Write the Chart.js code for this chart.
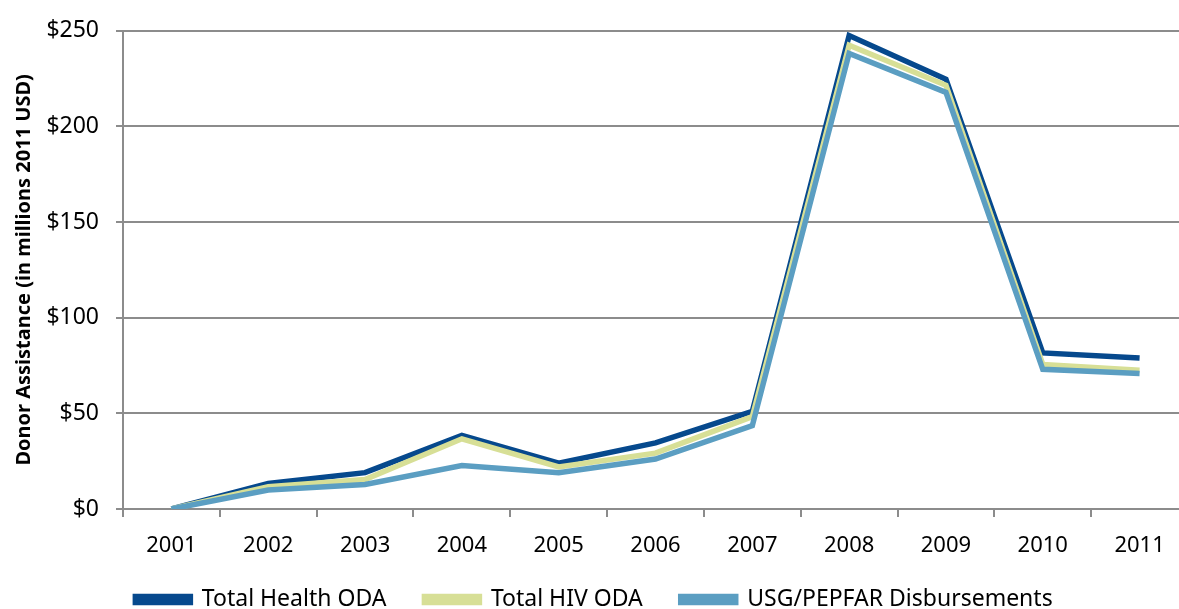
<!DOCTYPE html>
<html>
<head>
<meta charset="utf-8">
<script src="https://cdn.jsdelivr.net/npm/chart.js@4/dist/chart.umd.min.js"></script>
<style>
  html, body { margin: 0; padding: 0; overflow: hidden; background: #fff; }
  #wrap { width: 1188px; height: 609px; }
</style>
</head>
<body>
<div id="wrap"><canvas id="chart"></canvas></div>
<script>
// data (millions 2011 USD)
const years = ['2001', '2002', '2003', '2004', '2005', '2006', '2007', '2008', '2009', '2010', '2011'];
const totalHealth = [0, 13.3, 19, 38.5, 24, 34.6, 51, 247.5, 224.7, 81.6, 79];
const totalHiv = [0, 11.6, 15.4, 36.7, 22, 29.2, 48.3, 242.5, 221.5, 75.6, 72.5];
const usgPepfar = [0, 9.9, 12.8, 22.7, 19, 26.1, 43.6, 238.2, 217.8, 73, 70.9];
const yTicks = [0, 50, 100, 150, 200, 250];

const gridGray = '#8c8c8c';
const font = 'Noto Sans';

// legend keeps a small box in the layout, then is moved to the bottom line when drawn
const legendPlace = {
    id: 'legendPlace',
    beforeInit(chart) {
        let fit = chart.legend.fit;
        chart.legend.fit = function () {
            fit.call(this);
            this.height = 40;
        };
    },
    beforeDraw(chart) {
        let lg = chart.legend;
        lg.top = 600 - lg.options.labels.padding - 12;
    }
};

let ctx = document.getElementById('chart').getContext('2d');
let chart = new Chart(ctx, {
    type: 'line',
    data: {
        labels: years,
        datasets: [
            { label: 'Total Health ODA', data: totalHealth, borderColor: '#06498d', backgroundColor: '#06498d', order: 3 },
            { label: 'Total HIV ODA', data: totalHiv, borderColor: '#d7df96', backgroundColor: '#d7df96', order: 2 },
            { label: 'USG/PEPFAR Disbursements', data: usgPepfar, borderColor: '#5b9ec2', backgroundColor: '#5b9ec2', order: 1 }
        ]
    },
    plugins: [legendPlace],
    options: {
        responsive: true,
        maintainAspectRatio: false,
        animation: false,
        datasets: {
            line: { borderWidth: 5.5, pointRadius: 0, tension: 0, fill: false }
        },
        layout: { padding: { top: 21, right: 0, bottom: 0, left: 0 } },
        plugins: {
            tooltip: { enabled: false },
            legend: {
                position: 'bottom',
                labels: {
                    font: { family: font, size: 23 },
                    color: '#000',
                    boxWidth: 55,
                    boxHeight: 6,
                    padding: 38,
                    sort: (a, b) => a.datasetIndex - b.datasetIndex
                }
            }
        },
        scales: {
            x: {
                offset: true,
                grid: { display: true, drawOnChartArea: false, offset: true, color: gridGray, lineWidth: 2, tickLength: 8 },
                border: { color: gridGray, width: 2 },
                ticks: { font: { family: font, size: 22 }, color: '#000', padding: 16, maxRotation: 0 },
                afterFit: (scale) => { scale.height = 60; }
            },
            y: {
                min: 0,
                max: 250,
                afterBuildTicks: (scale) => { scale.ticks = yTicks.map(v => ({ value: v })); },
                grid: { color: gridGray, lineWidth: 2, tickLength: 7 },
                border: { color: gridGray, width: 2 },
                ticks: {
                    font: { family: font, size: 23 },
                    color: '#000',
                    padding: 17,
                    callback: (v) => '$' + v
                },
                title: {
                    display: true,
                    text: 'Donor Assistance (in millions 2011 USD)',
                    font: { family: font, size: 20, weight: 'bold' },
                    color: '#000',
                    padding: { top: 12, bottom: 0 }
                },
                afterFit: (scale) => { scale.width = 123; }
            }
        }
    }
});
</script>
</body>
</html>
